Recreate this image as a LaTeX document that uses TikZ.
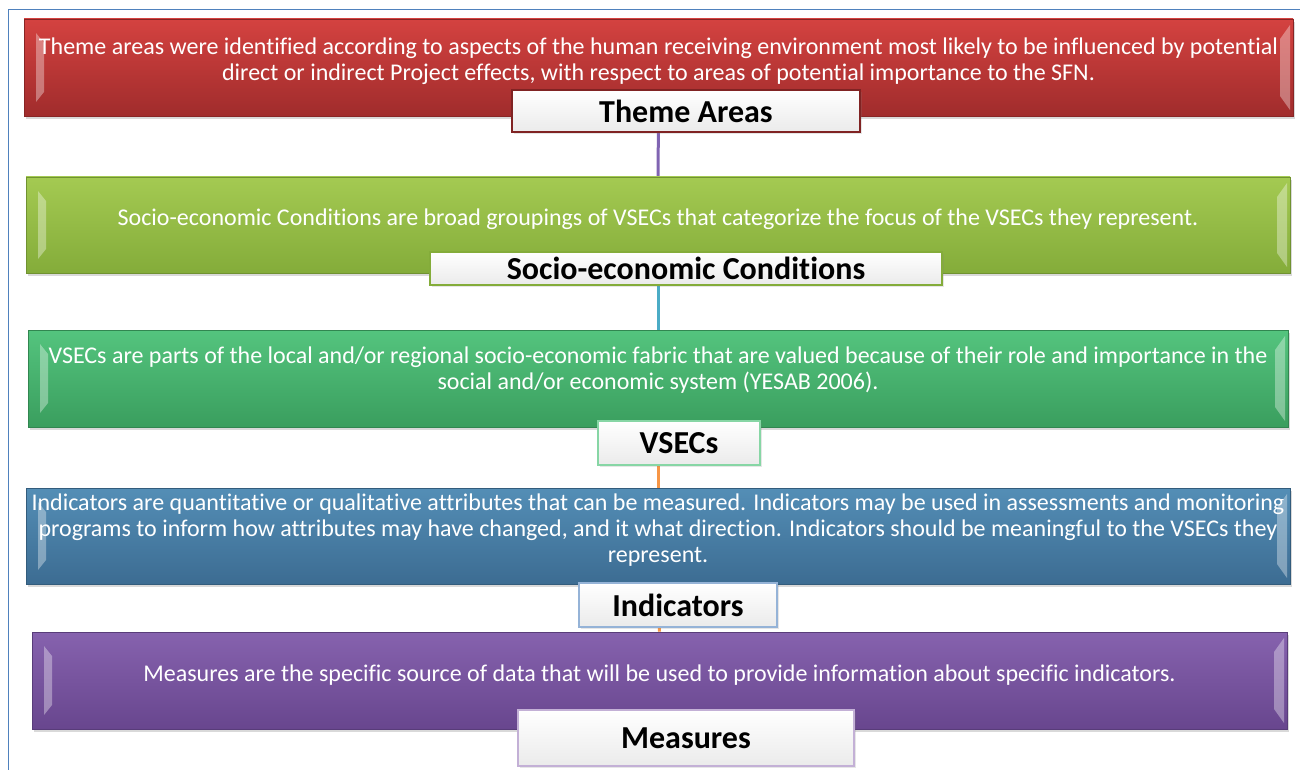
\documentclass[tikz,border=0pt]{standalone}
\usepackage{fontspec}
\setmainfont{Carlito}[Ligatures=NoCommon]
\usetikzlibrary{shadows,backgrounds}

\definecolor{framecol}{RGB}{79,129,189}
\definecolor{redtop}{RGB}{212,66,64}
\definecolor{redbot}{RGB}{160,44,44}
\definecolor{limetop}{RGB}{164,202,82}
\definecolor{limebot}{RGB}{132,172,58}
\definecolor{greentop}{RGB}{84,196,126}
\definecolor{greenbot}{RGB}{58,158,94}
\definecolor{bluetop}{RGB}{84,142,182}
\definecolor{bluebot}{RGB}{60,108,146}
\definecolor{purpletop}{RGB}{134,98,174}
\definecolor{purplebot}{RGB}{104,70,142}
\definecolor{linkpurple}{RGB}{128,100,178}
\definecolor{linkblue}{RGB}{75,172,198}
\definecolor{linkorange}{RGB}{247,150,70}

\tikzset{
  bevel/.style={path picture={
    \fill[white,opacity=0.35] ([shift={(12pt,-14pt)}]path picture bounding box.north west) -- ++(8pt,-10pt)
      -- ([shift={(20pt,24pt)}]path picture bounding box.south west) -- ++(-8pt,-10pt) -- cycle;
    \fill[white,opacity=0.35] ([shift={(-3pt,-6pt)}]path picture bounding box.north east) -- ++(-10pt,-14pt)
      -- ([shift={(-13pt,20pt)}]path picture bounding box.south east) -- ++(10pt,-14pt) -- cycle;}},
  bar/.style 2 args={rectangle, inner sep=0pt, top color=#1, bottom color=#2, draw=#2!85!black,
    line width=0.6pt, bevel, drop shadow={shadow xshift=2pt, shadow yshift=-3pt, opacity=0.3}},
  bartext/.style={text=white, font=\fontsize{24}{26}\selectfont, align=center, inner sep=0pt},
  lbl/.style={rectangle, inner sep=0pt, draw=#1, line width=1.2pt, top color=white, bottom color=black!8,
    font=\bfseries\fontsize{32}{34}\selectfont, drop shadow={shadow xshift=2pt, shadow yshift=-2pt, opacity=0.2}},
  link/.style={line width=3pt}
}

\begin{document}
\begin{tikzpicture}[x=1pt, y=-1pt]
    \useasboundingbox (0,0) rectangle (1300,770);
    \draw[framecol, line width=1pt] (1300,10) -- (8,10) -- (8,770);

    \node[bar={redtop}{redbot}, minimum width=1269, minimum height=97] (theme) at (658.5,67.5) {};
    \node[bar={limetop}{limebot}, minimum width=1264, minimum height=96] (socio) at (658,225) {};
    \node[bar={greentop}{greenbot}, minimum width=1260, minimum height=97] (vsec) at (658,378.5) {};
    \node[bar={bluetop}{bluebot}, minimum width=1264, minimum height=96] (indic) at (658,536) {};
    \node[bar={purpletop}{purplebot}, minimum width=1255, minimum height=97] (meas) at (659.5,680.5) {};

    \node[bartext] (themetxt) at ([yshift=6pt]theme.center) {Theme areas were identified according to aspects of the human receiving environment most likely to be influenced by potential\\ direct or indirect Project effects, with respect to areas of potential importance to the SFN.};
    \node[bartext] (sociotxt) at ([yshift=6pt]socio.center) {Socio-economic Conditions are broad groupings of VSECs that categorize the focus of the VSECs they represent.};
    \node[bartext] (vsectxt) at ([yshift=8pt]vsec.center) {VSECs are parts of the local and/or regional socio-economic fabric that are valued because of their role and importance in the\\ social and/or economic system (YESAB 2006).};
    \node[bartext] (indictxt) at ([yshift=6pt]indic.center) {Indicators are quantitative or qualitative attributes that can be measured. Indicators may be used in assessments and monitoring\\ programs to inform how attributes may have changed, and it what direction. Indicators should be meaningful to the VSECs they\\ represent.};
    \node[bartext] (meastxt) at ([yshift=5pt]meas.center) {Measures are the specific source of data that will be used to provide information about specific indicators.};

    \node[lbl={redbot!80!black}, minimum width=348, minimum height=42] (themelbl) at (686,111) {Theme Areas};
    \node[lbl={limebot}, minimum width=512, minimum height=33] (sociolbl) at (686,268.5) {Socio-economic Conditions};
    \node[lbl={greentop!70}, minimum width=162, minimum height=44] (vseclbl) at (679,443) {VSECs};
    \node[lbl={framecol!60}, minimum width=198, minimum height=44] (indiclbl) at (678,605) {Indicators};
    \node[lbl={purpletop!50}, minimum width=336, minimum height=56] (measlbl) at (686,738) {Measures};

    \begin{scope}[on background layer]
    \draw[link, linkpurple] (theme.south) -- (socio.north);
    \draw[link, linkblue] (socio.south) -- (vsec.north);
    \draw[link, linkorange] (vsec.south) -- (indic.north);
    \draw[link, linkorange] (indic.south) -- (meas.north);
    \end{scope}
\end{tikzpicture}
\end{document}
